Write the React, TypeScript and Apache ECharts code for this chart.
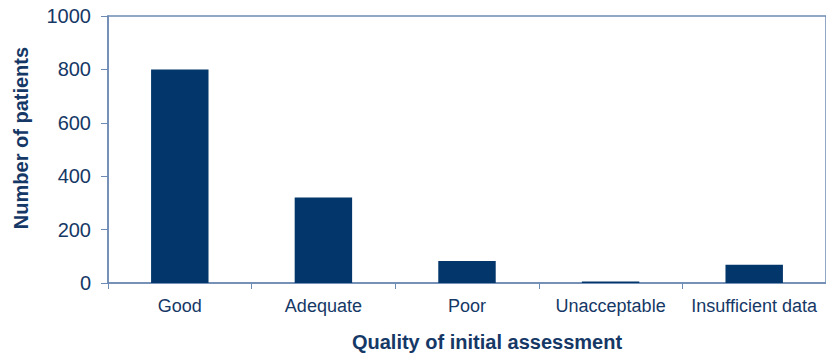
import React, { useEffect, useRef } from "react";
import * as echarts from "echarts";

const categories = ["Good", "Adequate", "Poor", "Unacceptable", "Insufficient data"];
const patients = [800, 320, 82, 6, 68];
const yTicks = { min: 0, max: 1000, interval: 200 };

const FONT = "'Liberation Sans', Arial, sans-serif";
const TEXT = "#153866";
const AXIS = "#6c8ab3";
const BAR = "#03366a";

export default function App() {
  const ref = useRef<HTMLDivElement>(null);

  useEffect(() => {
    if (!ref.current) return;
    const chart = echarts.init(ref.current, null, { renderer: "svg" });
    chart.setOption({
      animation: false,
      backgroundColor: "#ffffff",
      grid: {
        left: 108,
        top: 16,
        width: 727,
        height: 267,
        show: true,
        borderColor: AXIS,
        borderWidth: 1.5,
        containLabel: false,
      },
      xAxis: {
        type: "category",
        data: categories,
        boundaryGap: true,
        axisLine: { show: true, lineStyle: { color: AXIS, width: 1.5 } },
        axisTick: { show: true, alignWithLabel: false, interval: 0, length: 6, lineStyle: { color: AXIS } },
        axisLabel: { color: TEXT, fontSize: 18, fontFamily: FONT, margin: 14, interval: 0 },
      },
      yAxis: {
        type: "value",
        min: yTicks.min,
        max: yTicks.max,
        interval: yTicks.interval,
        axisLine: { show: true, lineStyle: { color: AXIS, width: 1.5 } },
        axisTick: { show: true, length: 7, lineStyle: { color: AXIS } },
        splitLine: { show: false },
        axisLabel: {
          color: TEXT,
          fontSize: 20,
          fontFamily: FONT,
          margin: 17,
          formatter: (v: number) => String(v),
        },
      },
      series: [
        {
          type: "bar",
          data: patients,
          barWidth: "40%",
          itemStyle: { color: BAR },
        },
      ],
      graphic: [
        {
          type: "text",
          x: 487,
          y: 342,
          style: {
            text: "Quality of initial assessment",
            fill: TEXT,
            font: `bold 20px ${FONT}`,
            textAlign: "center",
            textVerticalAlign: "middle",
          },
        },
        {
          type: "text",
          x: 21,
          y: 138,
          rotation: Math.PI / 2,
          style: {
            text: "Number of patients",
            fill: TEXT,
            font: `bold 20px ${FONT}`,
            textAlign: "center",
            textVerticalAlign: "middle",
          },
        },
      ],
    });
    return () => chart.dispose();
  }, []);

  return <div ref={ref} style={{ width: 826, height: 354, position: "absolute", left: 0, top: 0 }} />;
}
